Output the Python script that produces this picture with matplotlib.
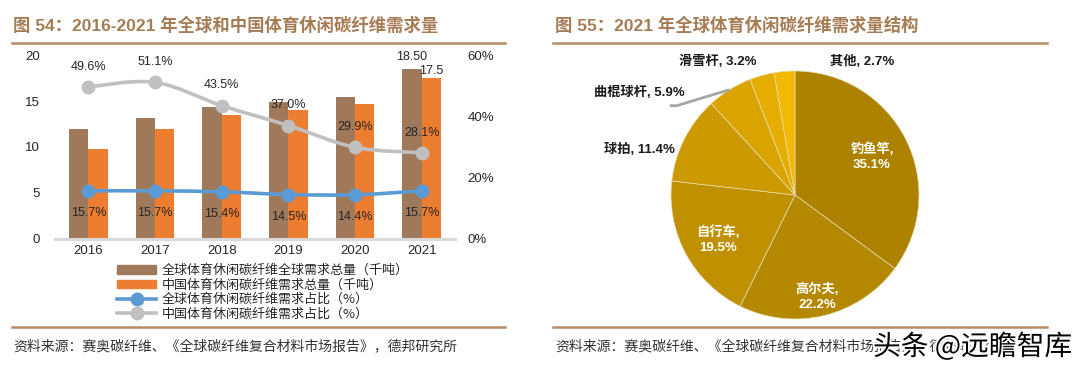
import numpy as np
import matplotlib
matplotlib.use('Agg')
import matplotlib.pyplot as plt
from matplotlib.path import Path
from matplotlib.patches import PathPatch
from matplotlib.lines import Line2D
from matplotlib.patches import Patch
import matplotlib.patheffects as pe

plt.rcParams['font.family'] = ['Liberation Sans', 'Noto Sans CJK SC', 'DejaVu Sans']

# data
years = ['2016', '2017', '2018', '2019', '2020', '2021']
global_demand = [12.0, 13.2, 14.3, 14.9, 15.4, 18.5]
china_demand = [9.8, 12.0, 13.5, 14.0, 14.7, 17.5]
global_share = [15.7, 15.7, 15.4, 14.5, 14.4, 15.7]
china_share = [49.6, 51.1, 43.5, 37.0, 29.9, 28.1]

pie_labels = ['钓鱼竿', '高尔夫', '自行车', '球拍', '曲棍球杆', '滑雪杆', '其他']
pie_values = [35.1, 22.2, 19.5, 11.4, 5.9, 3.2, 2.7]

# colours
TITLE_C = '#a67c55'
RULE_C = '#b58c66'
BROWN = '#a0785a'
ORANGE = '#ed7d31'
BLUE = '#5b9bd5'
GREY = '#c0c0c0'
TXT = '#262626'
pie_colors = ['#ad8200', '#b48800', '#bf9100', '#cc9a00', '#d9a400', '#e4ad00', '#f2b900']


def smooth_path(x, y):
    # excel-style smoothed line: bezier through the data points
    pts = np.column_stack([x, y]).astype(float)
    n = len(pts)
    verts = [pts[0]]
    codes = [Path.MOVETO]
    for i in range(n - 1):
        p0 = pts[max(i - 1, 0)]
        p1 = pts[i]
        p2 = pts[i + 1]
        p3 = pts[min(i + 2, n - 1)]
        c1 = p1 + (p2 - p0) / 6.0
        c2 = p2 - (p3 - p1) / 6.0
        verts += [c1, c2, p2]
        codes += [Path.CURVE4] * 3
    return Path(verts, codes)


fig = plt.figure(figsize=(10.8, 3.67), dpi=100)

# ---------------- left chart ----------------
ax = fig.add_axes([55 / 1080, 1 - 239 / 367, 400 / 1080, 184 / 367])
x = np.arange(len(years))
bw = 0.29
b1 = ax.bar(x - bw / 2, global_demand, bw, color=BROWN, zorder=2)
b2 = ax.bar(x + bw / 2, china_demand, bw, color=ORANGE, zorder=2)
ax.set_xlim(-0.5, len(years) - 0.5)
ax.set_ylim(0, 20)
ax.set_yticks([0, 5, 10, 15, 20])
ax.set_xticks(x)
ax.set_xticklabels(years)
for s in ['top', 'left', 'right']:
    ax.spines[s].set_visible(False)
ax.spines['bottom'].set_color('#d9d9d9')
ax.spines['bottom'].set_linewidth(2.2)
ax.tick_params(axis='both', length=0, labelsize=9.5, colors=TXT)
ax.tick_params(axis='y', pad=11)
ax.tick_params(axis='x', pad=4)

# last-year bar labels
ax.annotate('%.2f' % global_demand[-1], (x[-1] - bw / 2, global_demand[-1]),
            xytext=(0, 4), textcoords='offset points', ha='center', va='bottom',
            fontsize=9, color=TXT)
ax.annotate('%.1f' % china_demand[-1], (x[-1] + bw / 2, china_demand[-1]),
            xytext=(0, 0.5), textcoords='offset points', ha='center', va='bottom',
            fontsize=9, color=TXT)

ax2 = ax.twinx()
ax2.set_ylim(0, 60)
ax2.set_yticks([0, 20, 40, 60])
ax2.set_yticklabels(['%d%%' % v for v in [0, 20, 40, 60]])
for s in ['top', 'left', 'right', 'bottom']:
    ax2.spines[s].set_visible(False)
ax2.tick_params(axis='y', length=0, labelsize=9.5, colors=TXT, pad=9)

ax2.add_patch(PathPatch(smooth_path(x, china_share), fill=False, edgecolor=GREY, lw=2.6, zorder=3))
ax2.plot(x, china_share, 'o', color=GREY, ms=9, zorder=4)
ax2.add_patch(PathPatch(smooth_path(x, global_share), fill=False, edgecolor=BLUE, lw=2.6, zorder=3))
ax2.plot(x, global_share, 'o', color=BLUE, ms=9, zorder=4)

for xi, v in zip(x, china_share):
    ax2.annotate('%.1f%%' % v, (xi, v), xytext=(0, 14.5), textcoords='offset points',
                 ha='center', va='center', fontsize=9, color=TXT, zorder=5)
for xi, v in zip(x, global_share):
    ax2.annotate('%.1f%%' % v, (xi, v), xytext=(0, -16), textcoords='offset points',
                 ha='center', va='center', fontsize=9, color=TXT, zorder=5)

handles = [Patch(color=BROWN), Patch(color=ORANGE),
           Line2D([], [], color=BLUE, lw=2.6, marker='o', ms=9),
           Line2D([], [], color=GREY, lw=2.6, marker='o', ms=9)]
labels = ['全球体育休闲碳纤维全球需求总量（千吨）', '中国体育休闲碳纤维需求总量（千吨）',
          '全球体育休闲碳纤维需求占比（%）', '中国体育休闲碳纤维需求占比（%）']
fig.legend(handles, labels, loc='upper left', bbox_to_anchor=(117 / 1080, 1 - 264 / 367),
           frameon=False, handlelength=3.0, handleheight=0.6,
           handletextpad=0.4, labelspacing=0.12, borderpad=0, borderaxespad=0,
           labelcolor=TXT, prop={'family': ['Noto Sans CJK SC'], 'size': 9.4})

# ---------------- right chart ----------------
pax = fig.add_axes([671 / 1080, 1 - 319 / 367, 248 / 1080, 248 / 367])
wedges, _ = pax.pie(pie_values, colors=pie_colors, startangle=90, counterclock=False,
                    radius=1.0, wedgeprops=dict(edgecolor='#e9dcb0', linewidth=0.5))
pax.set_xlim(-1, 1)
pax.set_ylim(-1, 1)

# label anchor points (pie units) and alignment
label_pos = [(0.62, 0.31, 'center'), (0.18, -0.82, 'center'), (-0.62, -0.36, 'center'),
             (-0.97, 0.37, 'right'), (-0.89, 0.83, 'right'), (-0.625, 1.075, 'center'),
             (0.54, 1.075, 'center')]
inside = [True, True, True, False, False, False, False]
for name, v, (lx, ly, ha), ins in zip(pie_labels, pie_values, label_pos, inside):
    if ins:
        pax.text(lx, ly, '%s,\n%.1f%%' % (name, v), ha='center', va='center',
                 fontsize=9.5, fontweight='bold', color='white', linespacing=1.3)
    else:
        pax.text(lx, ly, '%s, %.1f%%' % (name, v), ha=ha, va='center',
                 fontsize=9.5, fontweight='bold', color='#1a1a1a')

# leader line for the hockey slice
w = wedges[4]
mid = np.deg2rad((w.theta1 + w.theta2) / 2)
pax.plot([np.cos(mid), -0.955, -1.01], [np.sin(mid), 0.72, 0.72],
         color='#a6a6a6', lw=2, clip_on=False, solid_capstyle='butt')

# ---------------- titles, rules, sources ----------------
fig.text(13 / 1080, 1 - 25 / 367, '图 54：2016-2021 年全球和中国体育休闲碳纤维需求量',
         fontsize=12.5, fontweight='bold', color=TITLE_C, va='center', ha='left')
fig.text(555 / 1080, 1 - 25 / 367, '图 55：2021 年全球体育休闲碳纤维需求量结构',
         fontsize=12.5, fontweight='bold', color=TITLE_C, va='center', ha='left')

for x0, x1 in [(12, 505), (553, 1047)]:
    fig.add_artist(Line2D([x0 / 1080, x1 / 1080], [1 - 43 / 367] * 2, color=RULE_C, lw=1.8))
    fig.add_artist(Line2D([x0 / 1080, x1 / 1080], [1 - 327 / 367] * 2, color=RULE_C, lw=1.8))

src = '资料来源：赛奥碳纤维、《全球碳纤维复合材料市场报告》，德邦研究所'
fig.text(13 / 1080, 1 - 346 / 367, src, fontsize=10, color='#333333', va='center',
         family=['Noto Sans CJK SC'])
fig.text(555 / 1080, 1 - 346 / 367, src, fontsize=10, color='#333333', va='center',
         family=['Noto Sans CJK SC'])

fig.text(873 / 1080, 1 - 347 / 367, '头条 @远瞻智库', fontsize=20, color='black',
         va='center', ha='left', family=['Noto Sans CJK SC'],
         path_effects=[pe.withStroke(linewidth=3, foreground='white')])

fig.savefig('out.png', dpi=100)
